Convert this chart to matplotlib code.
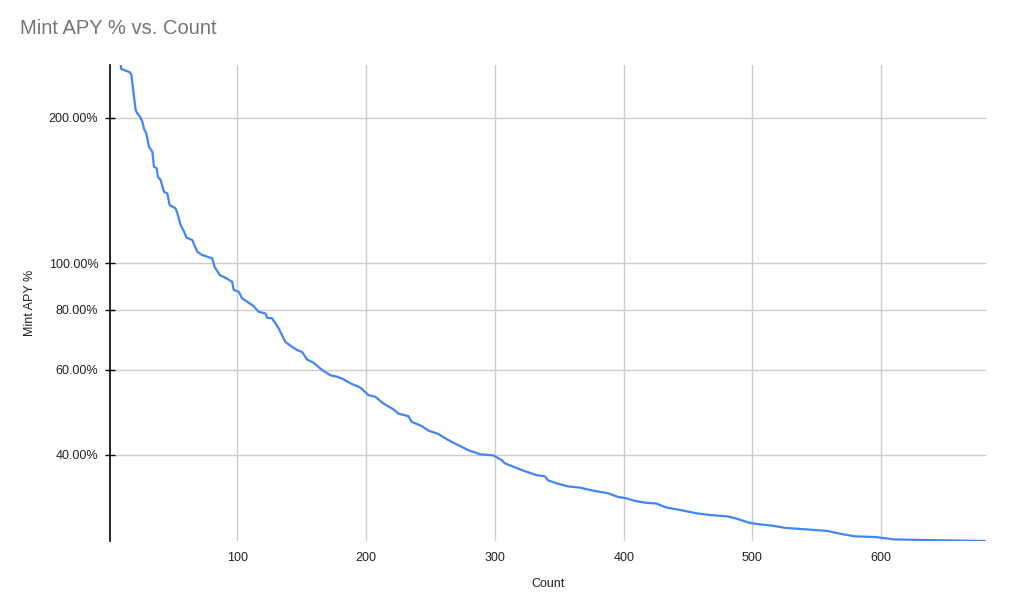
# Mint APY % vs. Count - line chart on log scale (Google Sheets look)

import matplotlib
matplotlib.use("Agg")
from matplotlib import pyplot as plt
from matplotlib.ticker import FixedLocator, NullLocator

plt.rcParams['font.family'] = ['Liberation Sans', 'DejaVu Sans']


# Values
count = [1, 8.5, 9.8, 16.5, 17.6, 20.9, 22.2, 24.3, 26.1, 27.4, 29.2, 31.2, 33.9,
         35.1, 37.2, 38.2, 40.3, 42.9, 45.5, 47.3, 51.9, 53.7, 55.8, 57.9, 60.5,
         64.9, 68.8, 72.6, 80.4, 82.2, 86.3, 90.7, 95.9, 97.1, 101.0, 103.6, 112.6,
         116.5, 121.7, 123.0, 126.9, 132.0, 137.2, 142.4, 146.3, 150.2, 154.0,
         159.1, 165.7, 172.1, 177.3, 182.4, 187.6, 195.3, 201.8, 207.0, 213.4,
         221.2, 225.0, 232.8, 235.4, 243.2, 248.3, 256.0, 262.6, 269.0, 279.3,
         288.4, 298.7, 305.2, 307.8, 314.2, 321.9, 332.3, 338.8, 341.3, 347.8,
         356.8, 365.9, 376.2, 387.8, 395.6, 402.1, 408.5, 417.6, 425.3, 433.1,
         444.7, 455.0, 466.7, 480.9, 487.4, 492.5, 497.7, 505.4, 515.7, 526.1,
         542.9, 558.4, 566.1, 579.1, 595.9, 610.1, 643.6, 681]
apy = [265, 265, 252.8, 248.8, 245.6, 207.8, 204.5, 201.2, 196.5, 189.8, 185.9,
       174.4, 170.2, 158.5, 157.3, 151.1, 148.7, 140.6, 139.5, 131.9, 129.9, 125.8,
       119.9, 117.1, 112.9, 111.6, 105.5, 103.9, 102.3, 98.2, 94.4, 93.2, 91.4,
       87.9, 87.2, 84.5, 81.4, 79.2, 78.6, 77.0, 76.8, 73.2, 68.6, 67.0, 66.0,
       65.4, 63.1, 62.1, 60.0, 58.5, 58.1, 57.4, 56.3, 55.2, 53.2, 52.8, 51.1,
       49.7, 48.7, 48.1, 46.8, 45.9, 44.9, 44.2, 43.1, 42.2, 40.9, 40.1, 39.9,
       39.0, 38.4, 37.8, 37.1, 36.3, 36.1, 35.4, 34.9, 34.4, 34.2, 33.7, 33.3,
       32.7, 32.5, 32.1, 31.8, 31.7, 31.1, 30.7, 30.3, 30.0, 29.8, 29.5, 29.2,
       28.9, 28.7, 28.5, 28.2, 28.0, 27.8, 27.5, 27.1, 27.0, 26.7, 26.6, 26.5]

y_ticks = [40, 60, 80, 100, 200]
x_ticks = [100, 200, 300, 400, 500, 600]


fig = plt.figure(figsize=(10.14, 5.96), dpi=100)
ax = fig.add_axes([0.1085, 0.0923, 0.864, 0.7986])

ax.plot(count, apy, color='#4285f4', linewidth=1.6, zorder=3)

ax.set_yscale('log')
ax.set_xlim(1, 681.5)
ax.set_ylim(26.5, 257.6)

ax.yaxis.set_major_locator(FixedLocator(y_ticks))
ax.yaxis.set_minor_locator(NullLocator())
ax.set_yticklabels(['%.2f%%' % v for v in y_ticks])
ax.set_xticks(x_ticks)
ax.set_xticklabels([str(v) for v in x_ticks])

ax.grid(True, color='#cccccc', linewidth=1)
ax.set_axisbelow(True)
for side in ['top', 'right', 'bottom']:
    ax.spines[side].set_visible(False)
ax.spines['left'].set_color('#000000')
ax.spines['left'].set_linewidth(1.2)

ax.tick_params(axis='y', direction='inout', length=7, width=1, colors='#000000',
               labelcolor='#222222', labelsize=9, pad=5)
ax.tick_params(axis='x', length=0, labelcolor='#222222', labelsize=9, pad=8)

ax.set_xlabel('Count', fontsize=9, color='#222222', labelpad=10)
ax.set_ylabel('Mint APY %', fontsize=9, color='#222222', labelpad=9)

fig.text(0.0197, 0.953, 'Mint APY % vs. Count', fontsize=14.5, color='#757575',
         ha='left', va='center')

fig.savefig('out.png', dpi=100)
